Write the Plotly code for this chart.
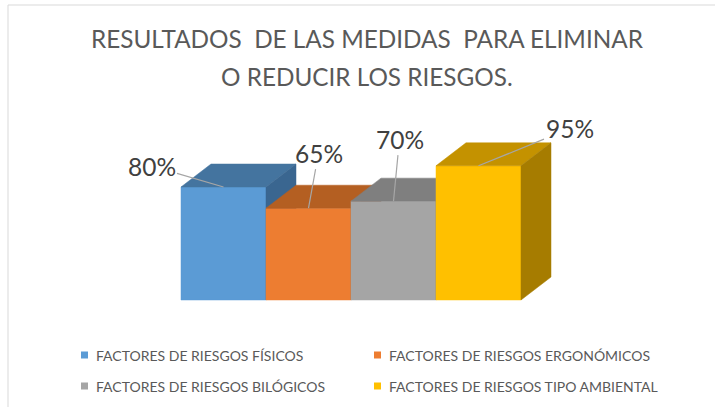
import plotly.graph_objects as go

categories = ["FACTORES DE RIESGOS FÍSICOS", "FACTORES DE RIESGOS ERGONÓMICOS",
              "FACTORES DE RIESGOS BILÓGICOS", "FACTORES DE RIESGOS TIPO AMBIENTAL"]
values = [80, 65, 70, 95]
front_colors = ["#5B9BD5", "#ED7D31", "#A5A5A5", "#FFC000"]
top_colors = ["#44749F", "#B45F22", "#7F7F7F", "#C49200"]
side_colors = ["#3A6690", "#A0521C", "#6E6E6E", "#A67C00"]
label_offsets = [(-72, -21), (10, -55), (6, -62), (91, -37)]

W, H = 715, 407
px_per_x = 85.0
px_per_y = 1.4125
x_left_px, y_base_px = 181.0, 300.0
x0 = -0.5 - x_left_px / px_per_x
x1 = x0 + W / px_per_x
y1 = y_base_px / px_per_y
y0 = y1 - H / px_per_y

dx = 30 / px_per_x
dy = 23 / px_per_y

FONT = "Lato"
fig = go.Figure()

for i, v in enumerate(values):
    faces = [
        ([i - .5, i + .5, i + .5, i - .5], [0, 0, v, v], front_colors[i]),
        ([i - .5, i + .5, i + .5 + dx, i - .5 + dx], [v, v, v + dy, v + dy], top_colors[i]),
        ([i + .5, i + .5 + dx, i + .5 + dx, i + .5], [0, dy, v + dy, v], side_colors[i]),
    ]
    for fx, fy, col in faces:
        fig.add_trace(go.Scatter(x=fx + [fx[0]], y=fy + [fy[0]], fill="toself", fillcolor=col,
                                 mode="lines", line=dict(color=col, width=0.5),
                                 hoverinfo="skip", showlegend=False, name=categories[i]))

annotations = []
for i, v in enumerate(values):
    ax, ay = label_offsets[i]
    annotations.append(dict(x=i, y=v, xref="x", yref="y", text=f"{v}%", showarrow=True,
                            ax=ax, ay=ay, arrowhead=0, arrowwidth=1.2, arrowcolor="#A6A6A6",
                            font=dict(family=FONT, size=24.5, color="#404040")))

# title
annotations.append(dict(x=367 / W, y=1 - 39 / H, xref="paper", yref="paper", showarrow=False,
                        text="RESULTADOS \u00a0DE LAS MEDIDAS \u00a0PARA ELIMINAR",
                        xanchor="center", yanchor="middle",
                        font=dict(family=FONT, size=24.3, color="#595959")))
annotations.append(dict(x=367 / W, y=1 - 76 / H, xref="paper", yref="paper", showarrow=False,
                        text="O REDUCIR LOS RIESGOS.", xanchor="center", yanchor="middle",
                        font=dict(family=FONT, size=24.3, color="#595959")))

# manual legend
shapes = [dict(type="rect", xref="paper", yref="paper", x0=8 / W, x1=1.02, y0=-0.02, y1=1 - 5 / H,
               line=dict(color="#D9D9D9", width=1), fillcolor="rgba(0,0,0,0)", layer="below")]
legend_pos = [(81, 355), (374, 355), (81, 386), (374, 386)]
for i, name in enumerate(categories):
    lx, ly = legend_pos[i]
    shapes.append(dict(type="rect", xref="paper", yref="paper",
                       x0=lx / W, x1=(lx + 7) / W, y0=1 - (ly + 3.5) / H, y1=1 - (ly - 3.5) / H,
                       fillcolor=front_colors[i], line=dict(width=0)))
    annotations.append(dict(x=(lx + 13) / W, y=1 - ly / H, xref="paper", yref="paper",
                            text=name, showarrow=False, xanchor="left", yanchor="middle",
                            font=dict(family=FONT, size=14, color="#595959")))

fig.update_layout(
    width=W, height=H, autosize=False,
    margin=dict(l=0, r=0, t=0, b=0),
    paper_bgcolor="white", plot_bgcolor="white",
    xaxis=dict(range=[x0, x1], visible=False, fixedrange=True),
    yaxis=dict(range=[y0, y1], visible=False, fixedrange=True),
    showlegend=False,
    annotations=annotations,
    shapes=shapes,
)

fig.write_html("out.html")
